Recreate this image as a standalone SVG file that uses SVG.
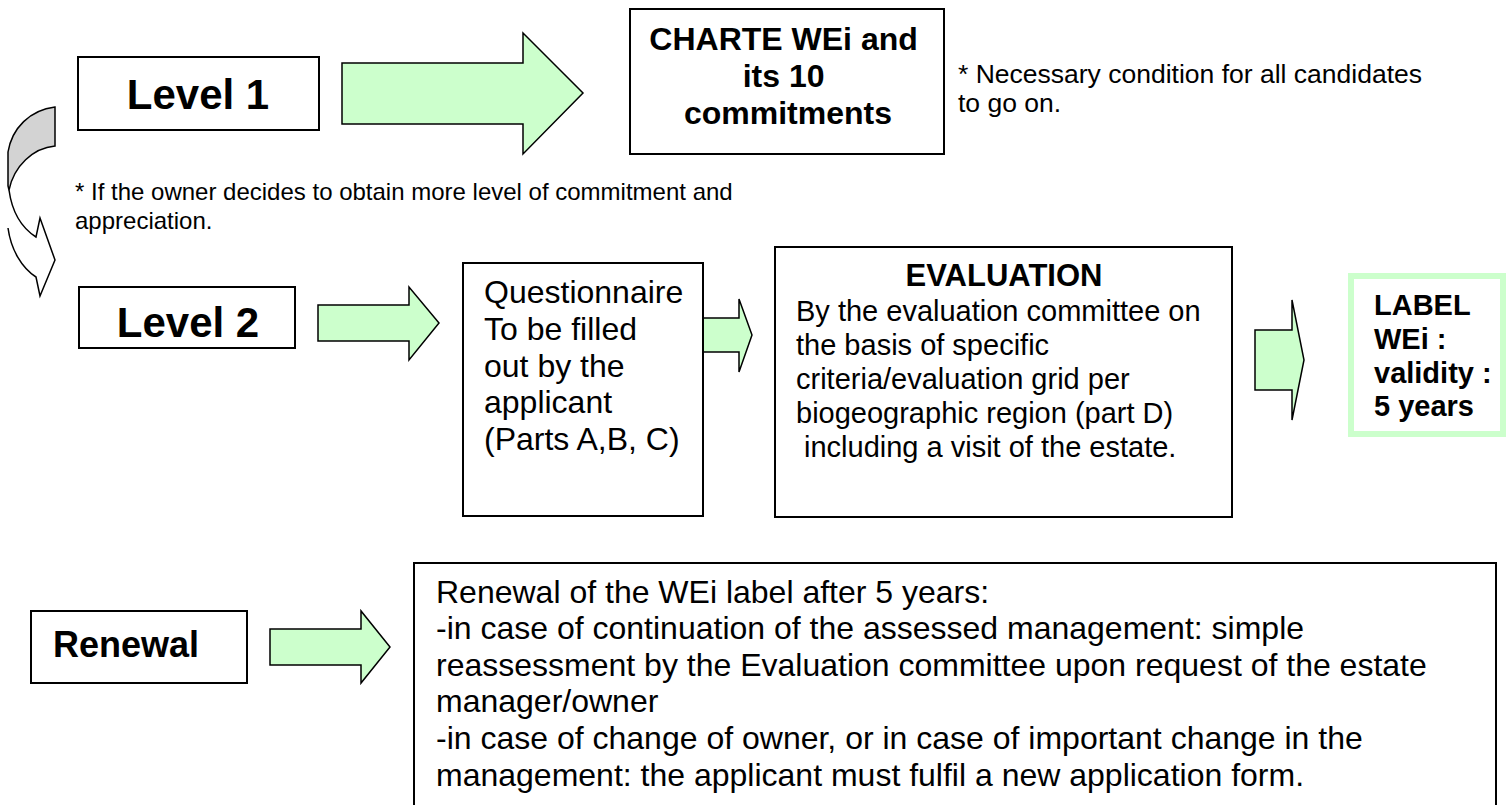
<svg xmlns="http://www.w3.org/2000/svg" width="1506" height="805" viewBox="0 0 1506 805">
  <style>
    .box { fill: #ffffff; stroke: #000000; stroke-width: 2; }
    .arrow { fill: #ccffcc; stroke: #000000; stroke-width: 1.5; stroke-linejoin: miter; }
    .t { font-family: "Liberation Sans", Arial, sans-serif; fill: #000000; }
    .b { font-weight: bold; }
    .mid { text-anchor: middle; }
  </style>
  <rect width="1506" height="805" fill="#ffffff"/>

  <!-- connectors -->
  <g id="connectors">
    <!-- curved arrow from level 1 down to level 2 -->
    <g id="curved-arrow" stroke="#000000" stroke-width="1.5" stroke-linejoin="miter">
      <path d="M55,107 L55,146 C33,148 14,166 9,190 L8,186 L8,152 C12,128 30,110 55,107 Z" fill="#d3d3d3"/>
      <path d="M9,190 C12,212 22,228 36,237 L40,218 L55,260 L40,296 L36,277 C22,268 11,250 8,228" fill="#ffffff"/>
    </g>
    <polygon class="arrow" points="342,63 523,63 523,33 583,93 523,154 523,124 342,124"/>
    <polygon class="arrow" points="318,305 409,305 409,287 439,323 409,360 409,341 318,341"/>
    <polygon class="arrow" points="703,318 739,318 739,299 752,335 739,372 739,352 703,352"/>
    <polygon class="arrow" points="1255,330 1292,330 1292,300 1304,360 1292,420 1292,390 1255,390"/>
    <polygon class="arrow" points="270,629 361,629 361,611 390,647 361,683 361,665 270,665"/>
  </g>

  <g id="level1">
    <rect class="box" x="78" y="57" width="241" height="73"/>
    <text class="t b mid" x="198" y="109" font-size="42">Level 1</text>
  </g>

  <g id="charte">
    <rect class="box" x="630" y="9" width="314" height="145"/>
    <text class="t b mid" font-size="32">
      <tspan x="788" y="50">CHARTE WEi and</tspan>
      <tspan x="788" y="87">its 10</tspan>
      <tspan x="788" y="124">commitments</tspan>
    </text>
  </g>

  <g id="note-charte">
    <text class="t" font-size="26.5">
      <tspan x="958" y="83">* Necessary condition for all candidates</tspan>
      <tspan x="958" y="112">to go on.</tspan>
    </text>
  </g>

  <g id="note-level">
    <text class="t" font-size="24">
      <tspan x="75" y="200">* If the owner decides to obtain more level of commitment and</tspan>
      <tspan x="75" y="229">appreciation.</tspan>
    </text>
  </g>

  <g id="level2">
    <rect class="box" x="79" y="287" width="216" height="61"/>
    <text class="t b mid" x="188" y="337" font-size="42">Level 2</text>
  </g>

  <g id="questionnaire">
    <rect class="box" x="463" y="263" width="240" height="253"/>
    <text class="t" font-size="32">
      <tspan x="484" y="303">Questionnaire</tspan>
      <tspan x="484" y="340">To be filled</tspan>
      <tspan x="484" y="377">out by the</tspan>
      <tspan x="484" y="413">applicant</tspan>
      <tspan x="484" y="450">(Parts A,B, C)</tspan>
    </text>
  </g>

  <g id="evaluation">
    <rect class="box" x="775" y="247" width="457" height="270"/>
    <text class="t b mid" x="1004" y="286" font-size="31">EVALUATION</text>
    <text class="t" font-size="29">
      <tspan x="796" y="321">By the evaluation committee on</tspan>
      <tspan x="796" y="355">the basis of specific</tspan>
      <tspan x="796" y="389">criteria/evaluation grid per</tspan>
      <tspan x="796" y="423">biogeographic region (part D)</tspan>
      <tspan x="804" y="457">including a visit of the estate.</tspan>
    </text>
  </g>

  <g id="label">
    <rect x="1351" y="276" width="152" height="158" fill="#ffffff" stroke="#ccffcc" stroke-width="6"/>
    <text class="t b" font-size="29">
      <tspan x="1374" y="315">LABEL</tspan>
      <tspan x="1374" y="349">WEi :</tspan>
      <tspan x="1374" y="383">validity :</tspan>
      <tspan x="1374" y="416">5 years</tspan>
    </text>
  </g>

  <g id="renewal">
    <rect class="box" x="31" y="611" width="216" height="72"/>
    <text class="t b" x="53" y="657" font-size="36">Renewal</text>
  </g>

  <g id="renewal-details">
    <rect class="box" x="414" y="563" width="1082" height="260"/>
    <text class="t" font-size="32">
      <tspan x="436" y="603">Renewal of the WEi label after 5 years:</tspan>
      <tspan x="436" y="639">-in case of continuation of the assessed management: simple</tspan>
      <tspan x="436" y="676">reassessment by the Evaluation committee upon request of the estate</tspan>
      <tspan x="436" y="712">manager/owner</tspan>
      <tspan x="436" y="749">-in case of change of owner, or in case of important change in the</tspan>
      <tspan x="436" y="786">management: the applicant must fulfil a new application form.</tspan>
    </text>
  </g>
</svg>
